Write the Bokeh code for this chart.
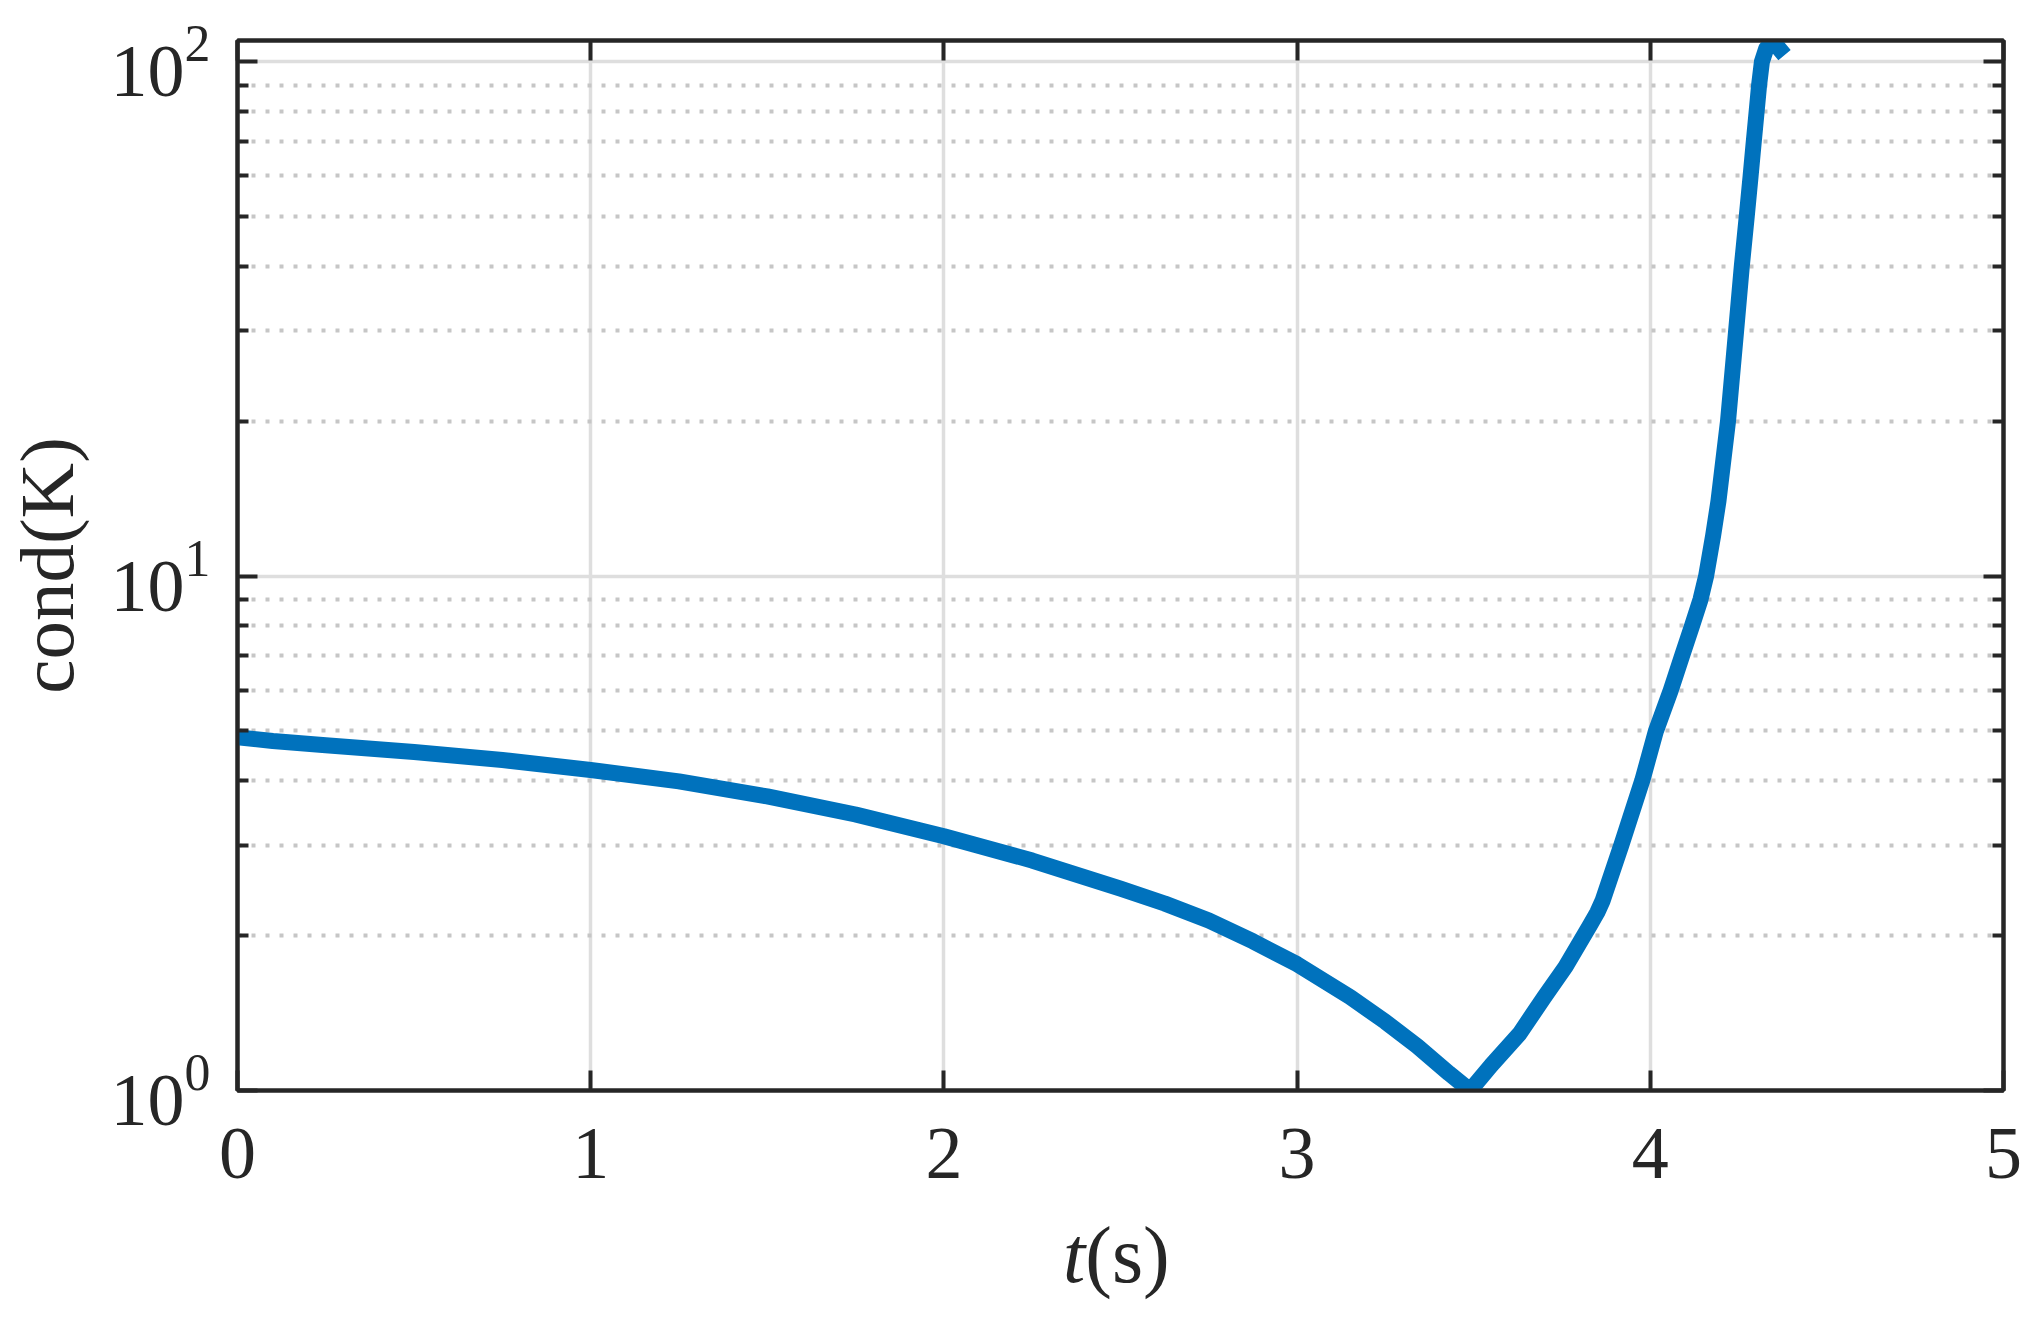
from bokeh.plotting import figure
from bokeh.models import FixedTicker, LogAxis, LinearAxis, CustomJSTickFormatter, Div
from bokeh.layouts import column
from bokeh.embed import file_html
from bokeh.resources import INLINE

# ---- data ----
t = [0.0, 0.1, 0.25, 0.5, 0.75, 1.0, 1.25, 1.5, 1.75, 2.0, 2.25, 2.5, 2.625, 2.75, 2.875, 3.0,
     3.15, 3.25, 3.34, 3.43, 3.49, 3.55, 3.63, 3.70, 3.76, 3.83, 3.85, 3.865, 3.918,
     3.977, 4.016, 4.058, 4.09, 4.118, 4.142, 4.158, 4.178, 4.193, 4.220, 4.243, 4.259,
     4.273, 4.284, 4.293, 4.301, 4.308, 4.316, 4.328, 4.343, 4.36, 4.38]
cond_K = [4.86, 4.78, 4.69, 4.55, 4.39, 4.20, 3.99, 3.73, 3.44, 3.12, 2.80, 2.47, 2.31, 2.14, 1.95, 1.76,
          1.52, 1.36, 1.22, 1.08, 1.00, 1.12, 1.29, 1.52, 1.74, 2.10, 2.22, 2.34, 3.0,
          4.0, 5.0, 6.0, 7.0, 8.0, 9.0, 10.0, 12.0, 14.0, 20.0, 30.0, 40.0,
          50.0, 60.0, 70.0, 80.0, 90.0, 100.0, 106.0, 109.0, 107.0, 103.0]

t_ticks = [0, 1, 2, 3, 4, 5]
y_ticks = [1, 10, 100]
y_minor = [2, 3, 4, 5, 6, 7, 8, 9, 20, 30, 40, 50, 60, 70, 80, 90]
x_label_italic = "t"
x_label_rest = "(s)"
y_label = "cond(K)"

FONT = "Liberation Serif"
INK = "#262626"

p = figure(frame_width=1766, frame_height=1050, y_axis_type="log",
           x_range=(0, 5), y_range=(1, 110),
           output_backend="svg", toolbar_location=None,
           min_border_left=236, min_border_right=30,
           min_border_top=40, min_border_bottom=130,
           background_fill_color="white", border_fill_color="white")

p.outline_line_color = INK
p.outline_line_width = 4

# grids
p.xgrid.ticker = FixedTicker(ticks=t_ticks)
p.ygrid.ticker = FixedTicker(ticks=y_ticks, minor_ticks=y_minor)
p.xgrid.grid_line_color = "#DEDEDE"
p.xgrid.grid_line_width = 3.5
p.ygrid.grid_line_color = "#DEDEDE"
p.ygrid.grid_line_width = 3.5
p.ygrid.minor_grid_line_color = "#C6C6C6"
p.ygrid.minor_grid_line_width = 4
p.ygrid.minor_grid_line_dash = "4 10"


def style_axis(ax, labels=True):
    ax.axis_line_color = INK
    ax.axis_line_width = 4
    ax.major_tick_line_color = INK
    ax.major_tick_line_width = 4
    ax.major_tick_in = 20
    ax.major_tick_out = 0
    ax.minor_tick_line_color = INK
    ax.minor_tick_line_width = 4
    ax.minor_tick_in = 11
    ax.minor_tick_out = 0
    ax.major_label_text_font = FONT
    ax.major_label_text_color = INK
    ax.major_label_text_font_size = "74px"
    if not labels:
        ax.formatter = CustomJSTickFormatter(code="return ''")
        ax.major_label_text_font_size = "2px"
        ax.major_label_standoff = 0


# bottom x axis
xa = p.xaxis[0]
xa.ticker = FixedTicker(ticks=t_ticks)
style_axis(xa)
xa.minor_tick_line_color = None
xa.major_label_standoff = 38

# left y axis
ya = p.yaxis[0]
ya.ticker = FixedTicker(ticks=y_ticks, minor_ticks=y_minor)
style_axis(ya)
ya.major_label_standoff = 27
ya.axis_label = y_label
ya.axis_label_text_font = FONT
ya.axis_label_text_font_style = "normal"
ya.axis_label_text_font_size = "77px"
ya.axis_label_text_color = INK
ya.axis_label_standoff = 18

# mirrored axes (ticks only)
top = LinearAxis(ticker=FixedTicker(ticks=t_ticks))
style_axis(top, labels=False)
top.minor_tick_line_color = None
p.add_layout(top, "above")

right = LogAxis(ticker=FixedTicker(ticks=y_ticks, minor_ticks=y_minor))
style_axis(right, labels=False)
p.add_layout(right, "right")

# curve
p.line(t, cond_K, line_color="#0072BD", line_width=16, line_join="round", line_cap="butt")

# x axis label: italic t + upright (s)
xlabel = Div(
    text=(f'<div style="padding-left:1058px; font-family:\'{FONT}\', serif; '
          f'font-size:80px; line-height:60px; color:{INK}; white-space:nowrap;">'
          f'<i>{x_label_italic}</i>{x_label_rest}</div>'),
    width=2032, height=90)

layout = column(p, xlabel, spacing=0)

open("out.html", "w").write(file_html(layout, INLINE))
